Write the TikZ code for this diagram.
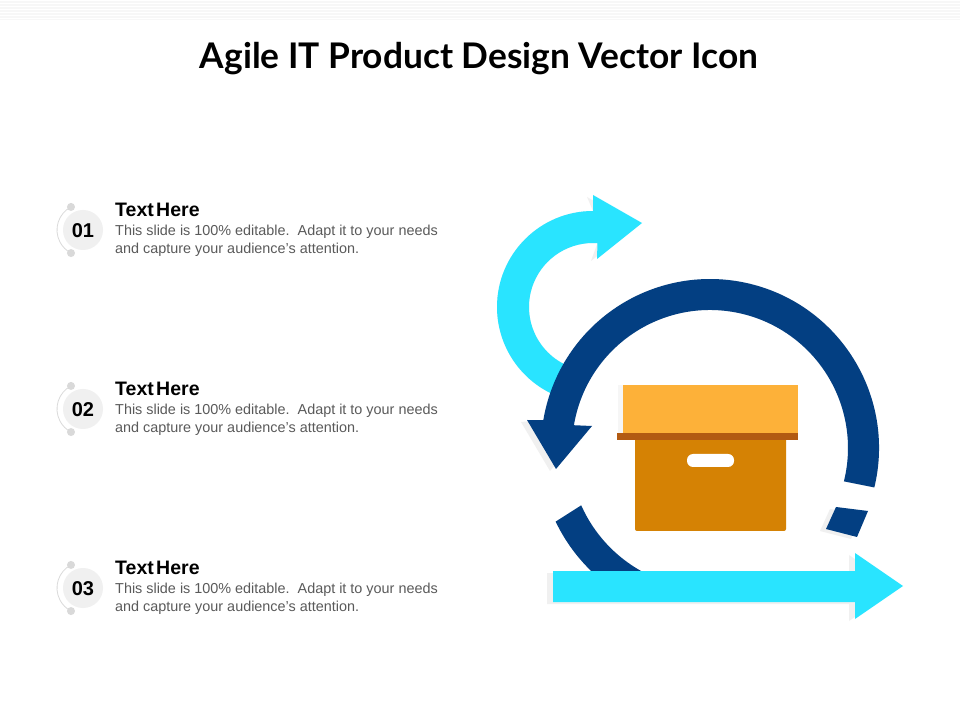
\documentclass[tikz,border=0pt]{standalone}
\usepackage{fontspec}
\setmainfont{Liberation Sans}
\newfontfamily\titlefont{Lato}
\usetikzlibrary{calc,positioning}
\definecolor{skyarrow}{HTML}{29E4FF}
\definecolor{navyring}{HTML}{033F82}
\definecolor{lidorange}{HTML}{FDB139}
\definecolor{striprust}{HTML}{B25A12}
\definecolor{boxorange}{HTML}{D58204}
\definecolor{softgray}{HTML}{F0F0F0}
\definecolor{bodygray}{HTML}{5A5A5A}
\tikzset{
	drop/.style={fill=softgray,shift={(-6,-2)}},
	headtext/.style={anchor=west,inner sep=0pt,font=\fontsize{19.5}{19.5}\selectfont\bfseries},
	bodytext/.style={anchor=west,inner sep=0pt,text=bodygray,font=\fontsize{14.4}{18.5}\selectfont,align=left},
	numtext/.style={inner sep=0pt,font=\fontsize{20}{20}\selectfont\bfseries},
}
\newcommand\curvedarrow[1]{
	\fill[#1] ($(cyanc)+(90:96)$) arc (90:248:96)
	    -- ($(cyanc)+(248:64)$) arc (248:86:64)
	    -- (597,461) -- (642,497) -- (593,525) -- cycle;
}
\newcommand\ringarrow[1]{
	\fill[#1] ($(ringc)+(-13.5:169)$) arc (-13.5:170.5:169)
	    -- (527,300) -- (556,251) -- (592,294)
	    -- ($(ringc)+(170.5:138)$) arc (170.5:-14:138) -- cycle;
}
\newcommand\ringpiece[1]{
	\fill[#1] (868,209) -- (857,183) -- (826,191) -- (836,213) -- cycle;
}
\newcommand\ringlow[1]{
	\fill[#1] ($(ringc)+(205.5:171)$) arc (205.5:232:171)
	    -- ($(ringc)+(245:141)$) arc (245:204:141) -- cycle;
}
\newcommand\flatarrow[1]{
	\fill[#1] (553,149) -- (855,149) -- (855,167) -- (903,134)
	    -- (855,101) -- (855,118) -- (553,118) -- cycle;
}
\newcommand\listitem[2]{
	\draw[softgray!80!gray,line width=0.8pt] ($(#2)+(117.5:26)$) arc (117.5:242.5:26);
	\fill[softgray] (#2) circle (20);
	\fill[gray!30] ($(#2)+(117.5:26)$) circle (4);
	\fill[gray!30] ($(#2)+(242.5:26)$) circle (4);
	\node[numtext] (num#1) at ($(#2)+(0,-1)$) {#1};
	\node[headtext] (head#1) at ($(#2)+(32,20)$) {Text\hspace{-3pt} Here};
	\node[bodytext] (body#1) at ($(#2)+(32,-11)$) {This slide is 100\% editable.\ \ Adapt it to your needs\\and capture your audience’s attention.};
}

\begin{document}
\begin{tikzpicture}[x=1pt,y=1pt]
	\useasboundingbox (0,0) rectangle (960,720);
	\fill[white] (0,0) rectangle (960,720);
	% top band
	\fill[gray!6] (0,700) rectangle (960,720);
	\foreach \yy in {702,705,...,720}
		\draw[white,line width=0.5pt] (0,\yy) -- (960,\yy);
	\node[inner sep=0pt,font=\fontsize{35.3}{35.3}\selectfont\bfseries\titlefont] (title) at (479,661) {Agile IT Product Design Vector Icon};
	% list
	\listitem{01}{83,490}
	\listitem{02}{83,311}
	\listitem{03}{83,132}
	% arrows
	\coordinate (cyanc) at (593,413);
	\coordinate (ringc) at (710,272);
	\curvedarrow{drop}
	\ringarrow{drop}
	\ringpiece{drop}
	\ringlow{drop}
	\flatarrow{drop}
	\curvedarrow{skyarrow}
	\ringarrow{navyring}
	\ringpiece{navyring}
	\ringlow{navyring}
	\flatarrow{skyarrow}
	% box
	\fill[softgray!60] (618,287) rectangle (640,335);
	\fill[boxorange,rounded corners=2pt] (635,189) -- (786,189) -- (786,285) -- (635,285) -- cycle;
	\fill[lidorange] (623,287) rectangle (798,335);
	\fill[striprust] (617,280) rectangle (798,287);
	\fill[white,rounded corners=6pt] (687,253) rectangle (734,266);
\end{tikzpicture}
\end{document}
